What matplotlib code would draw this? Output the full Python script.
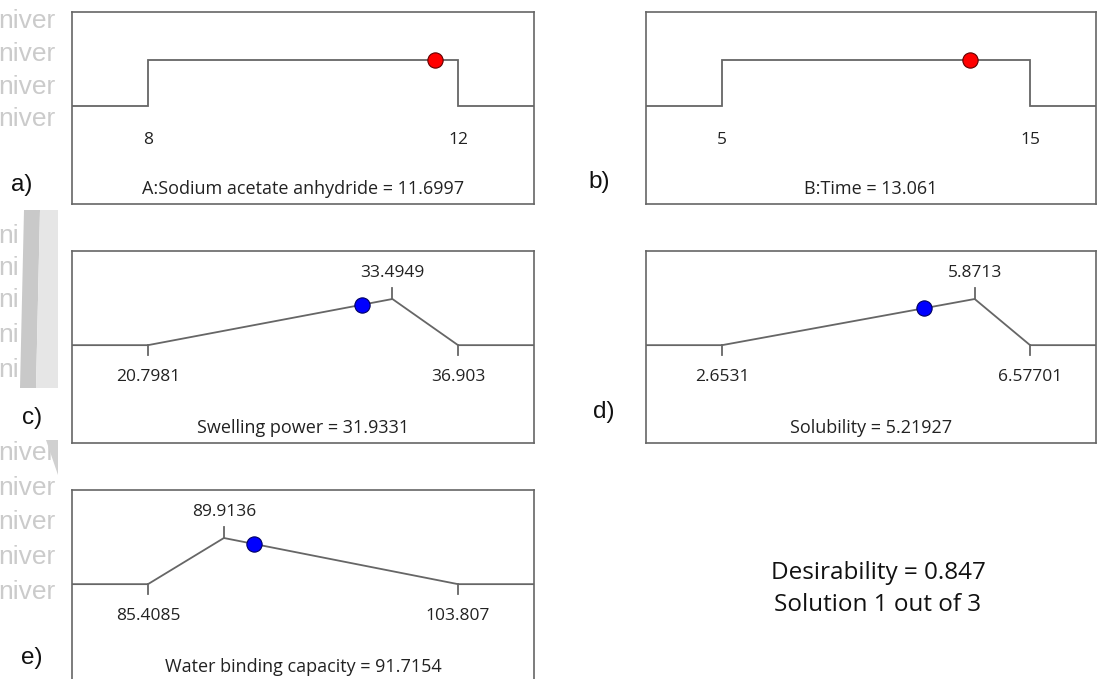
import matplotlib
matplotlib.use('Agg')
import matplotlib.pyplot as plt
from matplotlib.patches import Polygon, Rectangle

W, H = 1097, 679
fig = plt.figure(figsize=(W / 100, H / 100), dpi=100)

FONT = ['Open Sans', 'DejaVu Sans']
ARIAL = ['Liberation Sans', 'DejaVu Sans']
LINE = '#666666'
TXT = '#222222'

# factor ranges: (low, high) for the two step panels
step_names = ['A:Sodium acetate anhydride', 'B:Time']
step_lo = [8, 5]
step_hi = [12, 15]
step_val = [11.6997, 13.061]
step_d = [1.0, 1.0]

# response desirability curves: low, peak, high
resp_names = ['Swelling power', 'Solubility', 'Water binding capacity']
resp_lo = [20.7981, 2.6531, 85.4085]
resp_peak = [33.4949, 5.8713, 89.9136]
resp_hi = [36.903, 6.57701, 103.807]
resp_lo_lab = ['20.7981', '2.6531', '85.4085']
resp_peak_lab = ['33.4949', '5.8713', '89.9136']
resp_hi_lab = ['36.903', '6.57701', '103.807']
resp_val = [31.9331, 5.21927, 91.7154]
resp_val_lab = ['31.9331', '5.21927', '91.7154']
resp_d = [0.877, 0.797, 0.870]

panel_tags = ['a)', 'b)', 'c)', 'd)', 'e)']

YLIM = (-2.12, 2.04)
NUM_FS = 12.5
TITLE_FS = 13


def box(x0, x1, top, h=192):
    ax = fig.add_axes([x0 / W, (H - top - h) / H, (x1 - x0) / W, h / H])
    ax.set_xticks([])
    ax.set_yticks([])
    for s in ax.spines.values():
        s.set_color(LINE)
        s.set_linewidth(1.2)
    ax.set_ylim(*YLIM)
    return ax


def xrange_for(lo, hi, ml, mr):
    span = hi - lo
    return lo - ml * span, hi + mr * span


# panel geometry (pixels)
left_col = (72, 534, 0.245, 0.245)
right_col = (646, 1096, 0.247, 0.214)
tops = [12, 12, 251, 251, 490]
cols = [left_col, right_col, left_col, right_col, left_col]

# step panels a, b
for i in range(2):
    x0, x1, ml, mr = cols[i]
    ax = box(x0, x1, tops[i])
    lo, hi = step_lo[i], step_hi[i]
    xmin, xmax = xrange_for(lo, hi, ml, mr)
    ax.set_xlim(xmin, xmax)
    ax.plot([xmin, lo, lo, hi, hi, xmax], [0, 0, 1, 1, 0, 0], color=LINE, lw=1.3,
            solid_joinstyle='miter')
    ax.plot(step_val[i], step_d[i], 'o', ms=11, mfc='#ff0000', mec='#600000', mew=0.8)
    ax.text(lo, -0.73, str(lo), ha='center', va='center', fontsize=NUM_FS, family=FONT, color=TXT)
    ax.text(hi, -0.73, str(hi), ha='center', va='center', fontsize=NUM_FS, family=FONT, color=TXT)
    ax.text(0.5, 0.08, f'{step_names[i]} = {step_val[i]}', transform=ax.transAxes,
            ha='center', va='center', fontsize=TITLE_FS, family=FONT, color=TXT)

# response panels c, d, e
for j in range(3):
    i = j + 2
    x0, x1, ml, mr = cols[i]
    ax = box(x0, x1, tops[i], h=192)
    lo, pk, hi = resp_lo[j], resp_peak[j], resp_hi[j]
    xmin, xmax = xrange_for(lo, hi, ml, mr)
    ax.set_xlim(xmin, xmax)
    ax.plot([xmin, lo, pk, hi, xmax], [0, 0, 1, 0, 0], color=LINE, lw=1.3)
    ax.plot([lo, lo], [0, -0.22], color=LINE, lw=1.3)
    ax.plot([hi, hi], [0, -0.22], color=LINE, lw=1.3)
    ax.plot([pk, pk], [1, 1.24], color=LINE, lw=1.3)
    ax.plot(resp_val[j], resp_d[j], 'o', ms=11, mfc='#0000ff', mec='#000060', mew=0.8)
    ax.text(lo, -0.69, resp_lo_lab[j], ha='center', va='center', fontsize=NUM_FS, family=FONT, color=TXT)
    ax.text(hi, -0.69, resp_hi_lab[j], ha='center', va='center', fontsize=NUM_FS, family=FONT, color=TXT)
    ax.text(pk, 1.56, resp_peak_lab[j], ha='center', va='center', fontsize=NUM_FS, family=FONT, color=TXT)
    ax.text(0.5, 0.08, f'{resp_names[j]} = {resp_val_lab[j]}', transform=ax.transAxes,
            ha='center', va='center', fontsize=TITLE_FS, family=FONT, color=TXT)

# panel tags
tag_pos = [(22, 185), (599, 182), (32, 418), (604, 412), (32, 658)]
for tag, (px, py) in zip(panel_tags, tag_pos):
    fig.text(px / W, 1 - py / H, tag, ha='center', va='center', fontsize=17.5,
             family=ARIAL, color='#111111')

# overall result
fig.text(878 / W, 1 - 573 / H, 'Desirability = 0.847', ha='center', va='center',
         fontsize=17.5, family=FONT, color='#111111')
fig.text(878 / W, 1 - 605 / H, 'Solution 1 out of 3', ha='center', va='center',
         fontsize=17.5, family=FONT, color='#111111')

# faded watermark strip on the left edge (cropped in the source image)
wm = fig.add_axes([0, 0, 58 / W, 1])
wm.set_xlim(0, 58)
wm.set_ylim(H, 0)
wm.axis('off')
for yy in [21, 54, 87, 119, 453, 488, 522, 557, 592]:
    wm.text(-2, yy, 'niver', fontsize=19, color='#cbcbcb', va='center', ha='left',
            family=ARIAL, clip_on=True)
for yy in [236, 268, 300, 335, 370]:
    wm.text(-2, yy, 'ni', fontsize=19, color='#cbcbcb', va='center', ha='left',
            family=ARIAL, clip_on=True)
wm.add_patch(Rectangle((20, 210), 38, 178, color='#ffffff', lw=0, zorder=3))
wm.add_patch(Polygon([[24, 210], [40, 210], [36, 388], [20, 388]], closed=True,
                     color='#c9c9c9', lw=0, zorder=4))
wm.add_patch(Polygon([[40, 210], [58, 210], [58, 388], [36, 388]], closed=True,
                     color='#e6e6e6', lw=0, zorder=4))
wm.add_patch(Polygon([[46, 440], [58, 440], [58, 475]], closed=True, color='#d0d0d0',
                     lw=0, zorder=4))

fig.savefig('out.png', dpi=100)
